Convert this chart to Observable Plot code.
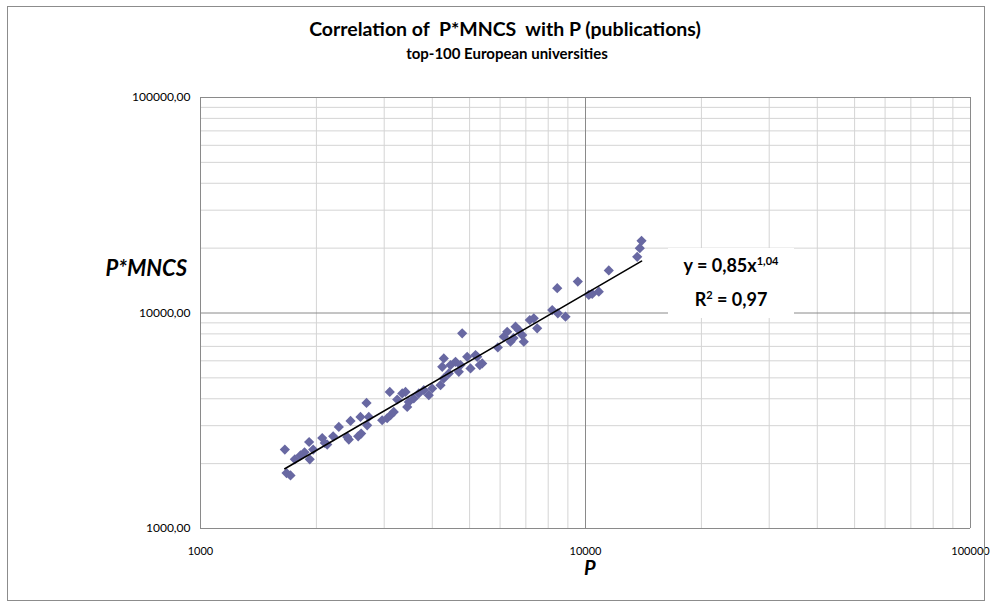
<!DOCTYPE html>
<html>
<head>
<meta charset="utf-8">
<script src="https://cdn.jsdelivr.net/npm/d3@7"></script>
<script src="https://cdn.jsdelivr.net/npm/@observablehq/plot@0.6"></script>
<style>
  html, body { margin: 0; padding: 0; background: #fff; }
  #wrap { position: relative; width: 992px; height: 608px; font-family: Lato, "Open Sans", sans-serif; }
  #frame { position: absolute; left: 7px; top: 6px; width: 978px; height: 595px; border: 1px solid #8c8c8c; box-sizing: border-box; }
  .lbl { position: absolute; color: #000; white-space: pre; }
  #title { left: 0; width: 1010px; top: 17px; text-align: center; font-weight: bold; font-size: 19.5px; }
  #subtitle { left: 0; width: 1014px; top: 44px; text-align: center; font-weight: bold; font-size: 15px; }
  #ylab { right: 805px; top: 254px; font-weight: bold; font-style: italic; font-size: 22px; }
  #xlab { left: 584px; top: 555px; font-weight: bold; font-style: italic; font-size: 20px; }
  #eq { left: 668px; top: 248px; width: 126px; height: 70px; background: #fff; text-align: center; font-weight: bold; font-size: 18px; line-height: 34px; }
  #eq sup { font-size: 11px; vertical-align: 7px; line-height: 0; }
</style>
</head>
<body>
<div id="wrap">
  <div id="chart"></div>
  <div id="frame"></div>
  <div id="title" class="lbl">Correlation of  P*MNCS  with P (publications)</div>
  <div id="subtitle" class="lbl">top-100 European universities</div>
  <div id="ylab" class="lbl">P*MNCS</div>
  <div id="xlab" class="lbl">P</div>
  <div id="eq" class="lbl">y = 0,85x<sup>1,04</sup><br>R<sup>2</sup> = 0,97</div>
</div>
<script>
// Publications (P) per university
const pubs = [1656, 1673, 1713, 1758, 1819, 1863, 1922, 1915, 1962, 2071,
  2103, 2134, 2211, 2287, 2405, 2428, 2453, 2603, 2568, 2614,
  2699, 2710, 2736, 2964, 3054, 3115, 3177, 3102, 3243, 3342,
  3408, 3443, 3476, 3581, 3690, 3802, 3917, 3998, 4202, 4285,
  4245, 4285, 4415, 4461, 4596, 4688, 4735, 4783, 4928, 5027,
  5233, 5392, 5315, 5180, 5919, 6135, 6261, 6386, 6580, 6711,
  6849, 6914, 7166, 7340, 7490, 8195, 8476, 8445, 8873, 9550,
  10200, 10409, 10828, 11495, 13624, 13836, 13981, 6501];
// P*MNCS per university
const pmncs = [2323, 1808, 1764, 2094, 2185, 2257, 2094, 2520, 2323, 2630,
  2493, 2451, 2679, 2959, 2659, 2586, 3155, 3293, 2679, 2757,
  3826, 3013, 3293, 3179, 3248, 3354, 3475, 4305, 3968, 4232,
  4305, 3666, 3868, 4011, 4232, 4384, 4156, 4464, 4625, 4969,
  5627, 6156, 5243, 5731, 5937, 5333, 5731, 8044, 6261, 5531,
  6261, 5834, 5731, 6377, 6926, 7758, 8185, 7354, 8636, 8335,
  7900, 7354, 9278, 9448, 8488, 10323, 9968, 13030, 9612, 13984,
  12124, 12256, 12563, 15766, 18218, 19994, 21624, 7651];

// Power trend line as labelled: y = 0.85 x^1.04, spanning the data
const trendA = 0.85, trendB = 1.04;
const trendX = [d3.min(pubs), d3.max(pubs)];

const xMajor = [1000, 10000, 100000];
const yMajor = [1000, 10000, 100000];
const minorSteps = [2, 3, 4, 5, 6, 7, 8, 9];

const data = pubs.map((p, i) => ({p, v: pmncs[i]}));
const trend = trendX.map(x => ({p: x, v: trendA * Math.pow(x, trendB)}));
const minor = [1000, 10000].flatMap(b => minorSteps.map(m => b * m));

const chart = Plot.plot({
  width: 992,
  height: 608,
  marginLeft: 200,
  marginRight: 22,
  marginTop: 97,
  marginBottom: 80,
  style: {fontFamily: "Lato, 'Open Sans', sans-serif", fontSize: "11px", background: "transparent"},
  x: {type: "log", domain: [1000, 100000]},
  y: {type: "log", domain: [1000, 100000]},
  marks: [
    Plot.ruleX(minor, {stroke: "#d4d4d4", strokeWidth: 1}),
    Plot.ruleY(minor, {stroke: "#d4d4d4", strokeWidth: 1}),
    Plot.ruleX(xMajor, {stroke: "#8a8a8a", strokeWidth: 1}),
    Plot.ruleY(yMajor, {stroke: "#8a8a8a", strokeWidth: 1}),
    Plot.axisX(xMajor, {tickSize: 0, tickPadding: 19, tickFormat: d => String(d), label: null, fontSize: 11}),
    Plot.axisY(yMajor, {tickSize: 0, tickPadding: 10, tickFormat: d => d.toFixed(2).replace(".", ","), label: null, fontSize: 12}),
    Plot.dot(data, {x: "p", y: "v", symbol: "diamond2", r: 4.6, fill: "#6868a2", stroke: "none"}),
    Plot.line(trend, {x: "p", y: "v", stroke: "#000", strokeWidth: 1.6})
  ]
});
document.getElementById("chart").appendChild(chart);
</script>
</body>
</html>
